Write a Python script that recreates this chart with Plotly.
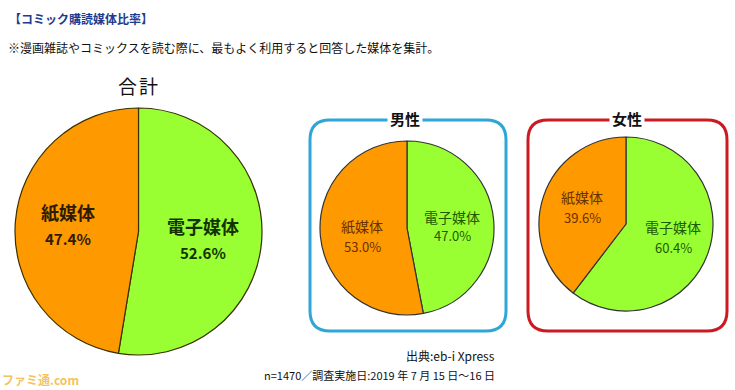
import plotly.graph_objects as go

# ---- data ----
media_labels = ["電子媒体", "紙媒体"]
total_values = [52.6, 47.4]
male_values = [47.0, 53.0]
female_values = [60.4, 39.6]
group_titles = ["合計", "男性", "女性"]
chart_title = "【コミック購読媒体比率】"
chart_note = "※漫画雑誌やコミックスを読む際に、最もよく利用すると回答した媒体を集計。"
source_text = "出典:eb-i Xpress"
sample_text = "n=1470／調査実施日:2019 年 7 月 15 日〜16 日"

W, H = 735, 390
FONT = "Noto Sans CJK JP, sans-serif"
GREEN = "#99FF33"
ORANGE = "#FF9900"


def px(x):
    return x / W


def py(y):
    return 1 - y / H


def dom(x0, y0, x1, y1):
    return dict(x=[px(x0), px(x1)], y=[py(y1), py(y0)])


def rrect(x0, y0, x1, y1, r):
    X = lambda v: f"{px(v):.5f}"
    Y = lambda v: f"{py(v):.5f}"
    return (f"M {X(x0 + r)},{Y(y0)} L {X(x1 - r)},{Y(y0)} Q {X(x1)},{Y(y0)} {X(x1)},{Y(y0 + r)} "
            f"L {X(x1)},{Y(y1 - r)} Q {X(x1)},{Y(y1)} {X(x1 - r)},{Y(y1)} "
            f"L {X(x0 + r)},{Y(y1)} Q {X(x0)},{Y(y1)} {X(x0)},{Y(y1 - r)} "
            f"L {X(x0)},{Y(y0 + r)} Q {X(x0)},{Y(y0)} {X(x0 + r)},{Y(y0)} Z")


fig = go.Figure()

pies = [
    (total_values, dom(15, 108, 262, 355), "#3a3000", 1.2),
    (male_values, dom(320, 141, 494, 315), "#333333", 1.2),
    (female_values, dom(539, 137, 713, 311), "#333333", 1.2),
]
for vals, d, lc, lw in pies:
    fig.add_trace(go.Pie(
        labels=media_labels, values=vals, sort=False, direction="clockwise",
        rotation=0, domain=d, textinfo="none", hoverinfo="skip",
        marker=dict(colors=[GREEN, ORANGE], line=dict(color=lc, width=lw)),
        showlegend=False,
    ))

ann = []
# header
ann.append(dict(text=f"<b>{chart_title}</b>", x=px(7), y=py(18), xanchor="left", yanchor="middle",
                font=dict(family=FONT, size=12, color="#1e3c8c")))
ann.append(dict(text=chart_note, x=px(6), y=py(47), xanchor="left", yanchor="middle",
                font=dict(family=FONT, size=12, color="#111111")))
# total title, one glyph per annotation
for k, ch in enumerate(group_titles[0]):
    ann.append(dict(text=ch, x=px(127 + 21 * k), y=py(85), xanchor="center", yanchor="middle",
                    font=dict(family=FONT, size=19, color="#111111")))
# box titles
for t, cx in [(group_titles[1], 405), (group_titles[2], 627)]:
    ann.append(dict(text=f"<b>{t}</b>", x=px(cx), y=py(118), xanchor="center", yanchor="middle",
                    bgcolor="white", borderpad=2,
                    font=dict(family=FONT, size=15, color="#111111")))

# slice labels: (values, label index, x, y1, y2, size1, size2, bold, color)
label_specs = [
    (total_values, 1, 68, 212, 238, 18, 15, True, "#2e1c00"),
    (total_values, 0, 203, 226, 252, 18, 15, True, "#143300"),
    (male_values, 1, 362, 226, 246, 14, 13, False, "#6a3000"),
    (male_values, 0, 452, 217, 236, 14, 13, False, "#1f5a00"),
    (female_values, 1, 582, 197, 217, 14, 13, False, "#6a3000"),
    (female_values, 0, 673, 227, 247, 14, 13, False, "#1f5a00"),
]
for vals, i, cx, y1, y2, s1, s2, bold, col in label_specs:
    name = media_labels[i]
    pct = f"{vals[i]:.1f}%"
    if bold:
        name, pct = f"<b>{name}</b>", f"<b>{pct}</b>"
    ann.append(dict(text=name, x=px(cx), y=py(y1), xanchor="center", yanchor="middle",
                    font=dict(family=FONT, size=s1, color=col)))
    ann.append(dict(text=pct, x=px(cx), y=py(y2), xanchor="center", yanchor="middle",
                    font=dict(family=FONT, size=s2, color=col)))

# footer
ann.append(dict(text=source_text, x=px(497), y=py(355), xanchor="right", yanchor="middle",
                font=dict(family=FONT, size=12, color="#111111")))
ann.append(dict(text=sample_text, x=px(497), y=py(375), xanchor="right", yanchor="middle",
                font=dict(family=FONT, size=11, color="#111111")))
ann.append(dict(text="<b>ファミ通.com</b>", x=px(0), y=py(379), xanchor="left", yanchor="middle",
                font=dict(family=FONT, size=12, color="#f5c35c")))

for a in ann:
    a.update(xref="paper", yref="paper", showarrow=False)

shapes = [
    dict(type="path", path=rrect(310, 120, 506, 331, 20), xref="paper", yref="paper",
         line=dict(color="#2ea7d8", width=3), layer="below"),
    dict(type="path", path=rrect(528, 120, 727, 331, 20), xref="paper", yref="paper",
         line=dict(color="#cc1a22", width=3), layer="below"),
]

fig.update_layout(
    width=W, height=H, margin=dict(l=0, r=0, t=0, b=0),
    paper_bgcolor="white", plot_bgcolor="white",
    annotations=ann, shapes=shapes,
)

fig.write_html("out.html", config={"displayModeBar": False},
               post_script="document.body.style.margin='0';document.body.style.overflow='hidden';")
